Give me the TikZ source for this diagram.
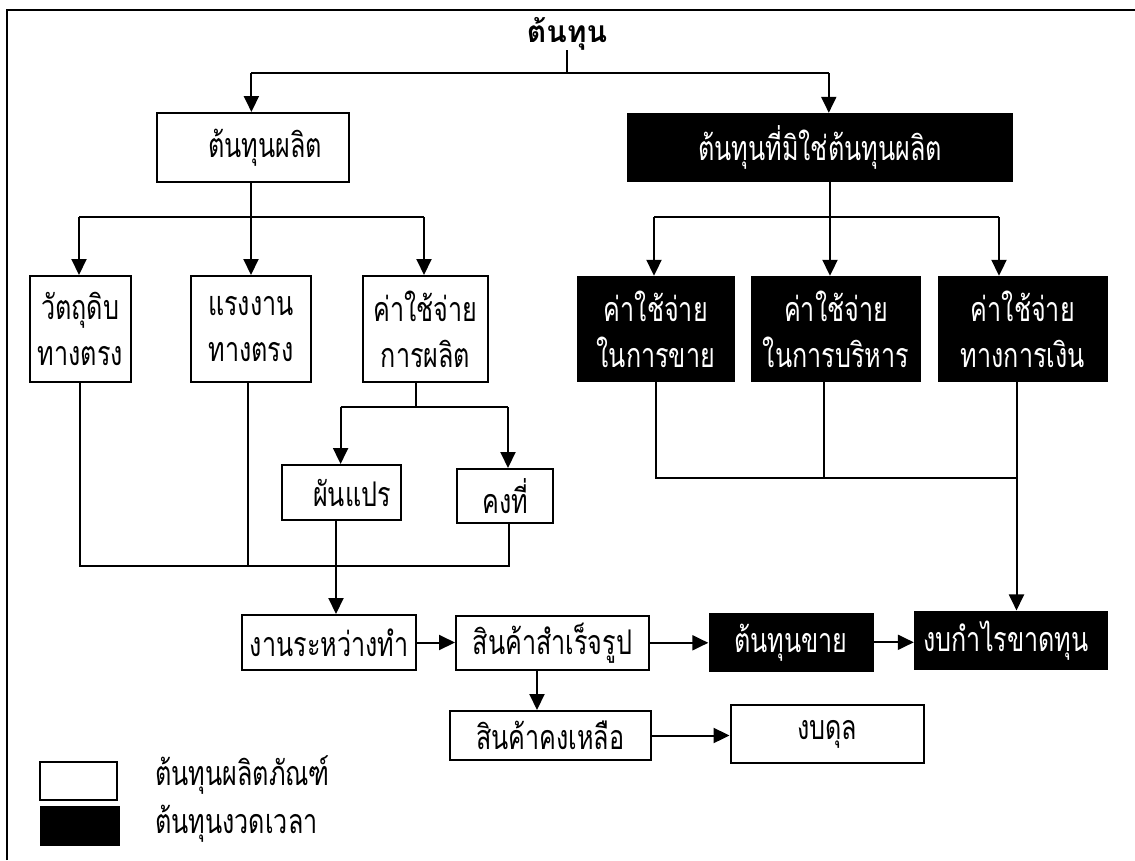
\documentclass[tikz,border=0pt]{standalone}
\usepackage{fontspec}
\setmainfont[Script=Thai,FakeStretch=0.74]{Loma}
\newfontfamily\thaititle[Script=Thai]{Loma}
\usetikzlibrary{arrows.meta}
\newcommand\thaifs{\fontsize{34}{46}\selectfont}
\begin{document}
\begin{tikzpicture}[x=1pt,y=-1pt,
  wbox/.style={draw=black,line width=2pt,fill=white,inner sep=0pt,align=center,font=\thaifs},
  bbox/.style={fill=black,text=white,inner sep=0pt,align=center,font=\thaifs},
  conn/.style={line width=2pt},
  arr/.style={line width=2pt,-{Triangle[length=16pt,width=15pt]}}]
\useasboundingbox (0,0) rectangle (1135,860);
\draw[line width=2.2pt] (7,860) -- (7,10) -- (1135,10);

% title
\node[font=\thaititle\fontsize{30}{36}\selectfont\bfseries,anchor=base,inner sep=0pt] (title) at (567,42) {ต้นทุน};

% top level
\node[wbox,minimum width=192pt,minimum height=69pt] (prod) at (253,147.5) {\hspace*{24pt}ต้นทุนผลิต};
\node[bbox,minimum width=386pt,minimum height=69pt] (nonprod) at (820,147.5) {ต้นทุนที่มิใช่ต้นทุนผลิต};

% second level left
\node[wbox,minimum width=100.5pt,minimum height=106pt] (raw) at (80.25,329) {วัตถุดิบ\\ทางตรง};
\node[wbox,minimum width=120pt,minimum height=106pt] (labor) at (251,329) {แรงงาน\\ทางตรง};
\node[wbox,minimum width=125pt,minimum height=106pt] (moh) at (425.5,329) {ค่าใช้จ่าย\\การผลิต};

% second level right
\node[bbox,minimum width=158.5pt,minimum height=106pt] (sell) at (655.75,329) {ค่าใช้จ่าย\\ในการขาย};
\node[bbox,minimum width=170pt,minimum height=106pt] (admin) at (836,329) {ค่าใช้จ่าย\\ในการบริหาร};
\node[bbox,minimum width=169.5pt,minimum height=106pt] (fin) at (1022.75,329) {ค่าใช้จ่าย\\ทางการเงิน};

% variable / fixed
\node[wbox,minimum width=119.7pt,minimum height=55pt] (var) at (341.5,492.5) {\hspace*{21pt}ผันแปร};
\node[wbox,minimum width=96.4pt,minimum height=54pt] (fix) at (505.2,496) {คงที่};

% bottom row
\node[wbox,minimum width=174.4pt,minimum height=55pt] (wip) at (329.2,642.5) {งานระหว่างทำ};
\node[wbox,minimum width=193pt,minimum height=54.3pt] (fg) at (552.5,642.8) {สินค้าสำเร็จรูป};
\node[bbox,minimum width=165pt,minimum height=59.3pt] (cogs) at (791,642.3) {ต้นทุนขาย};
\node[bbox,minimum width=194pt,minimum height=59.3pt] (is) at (1011,640.3) {งบกำไรขาดทุน\hspace*{10pt}};
\node[wbox,minimum width=201pt,minimum height=49pt] (inv) at (550.2,735.5) {สินค้าคงเหลือ};
\node[wbox,minimum width=193.3pt,minimum height=57.7pt] (bs) at (827.2,733.9) {งบดุล};

% legend
\node[wbox,minimum width=77pt,minimum height=38pt] (lw) at (78.5,781) {};
\node[bbox,minimum width=80pt,minimum height=40pt] (lb) at (80,826) {};
\node[font=\thaifs,anchor=base west,inner sep=0pt] (lwt) at (155,785) {ต้นทุนผลิตภัณฑ์};
\node[font=\thaifs,anchor=base west,inner sep=0pt] (lbt) at (155,833) {ต้นทุนงวดเวลา};

% connectors: title
\coordinate (j1L) at (251.4,73);
\coordinate (j1R) at (828.8,73);
\coordinate (j1M) at (567,73);
\draw[conn] (title.south) -- (j1M);
\draw[conn] (j1L) -- (j1R);
\draw[arr] (j1L) -- (j1L |- prod.north);
\draw[arr] (j1R) -- (j1R |- nonprod.north);

% production cost split
\coordinate (j2a) at (79,217);
\coordinate (j2b) at (251,217);
\coordinate (j2c) at (424,217);
\draw[conn] (j2b |- prod.south) -- (j2b);
\draw[conn] (j2a) -- (j2c);
\draw[arr] (j2a) -- (j2a |- raw.north);
\draw[arr] (j2b) -- (j2b |- labor.north);
\draw[arr] (j2c) -- (j2c |- moh.north);

% non-production split
\coordinate (j3a) at (654,217);
\coordinate (j3b) at (830,217);
\coordinate (j3c) at (999,217);
\draw[conn] (j3b |- nonprod.south) -- (j3b);
\draw[conn] (j3a) -- (j3c);
\draw[arr] (j3a) -- (j3a |- sell.north);
\draw[arr] (j3b) -- (j3b |- admin.north);
\draw[arr] (j3c) -- (j3c |- fin.north);

% overhead split
\coordinate (j4a) at (340.6,407.3);
\coordinate (j4m) at (416,407.3);
\coordinate (j4b) at (508,407.3);
\draw[conn] (j4m |- moh.south) -- (j4m);
\draw[conn] (j4a) -- (j4b);
\draw[arr] (j4a) -- (j4a |- var.north);
\draw[arr] (j4b) -- (j4b |- fix.north);

% collect production costs
\coordinate (k1) at (79.6,565.7);
\coordinate (k2) at (248,565.7);
\coordinate (k3) at (336,565.7);
\coordinate (k4) at (509,565.7);
\draw[conn] (k1 |- raw.south) -- (k1) -- (k4) -- (k4 |- fix.south);
\draw[conn] (k2 |- labor.south) -- (k2);
\draw[conn] (k3 |- var.south) -- (k3);
\draw[arr] (k3) -- (k3 |- wip.north);

% collect period costs
\coordinate (m1) at (656,477.7);
\coordinate (m2) at (824,477.7);
\coordinate (m3) at (1016.5,477.7);
\draw[conn] (m1 |- sell.south) -- (m1) -- (m3);
\draw[conn] (m2 |- admin.south) -- (m2);
\draw[arr] (m3 |- fin.south) -- (m3 |- is.north);

% bottom flow
\coordinate (f1) at (537,700);
\draw[arr] (wip.east) -- (wip.east -| fg.west);
\draw[arr] (fg.east) -- (fg.east -| cogs.west);
\draw[arr] (cogs.east) -- (cogs.east -| is.west);
\draw[arr] (f1 |- fg.south) -- (f1 |- inv.north);
\draw[arr] (inv.east) -- (inv.east -| bs.west);
\end{tikzpicture}
\end{document}
